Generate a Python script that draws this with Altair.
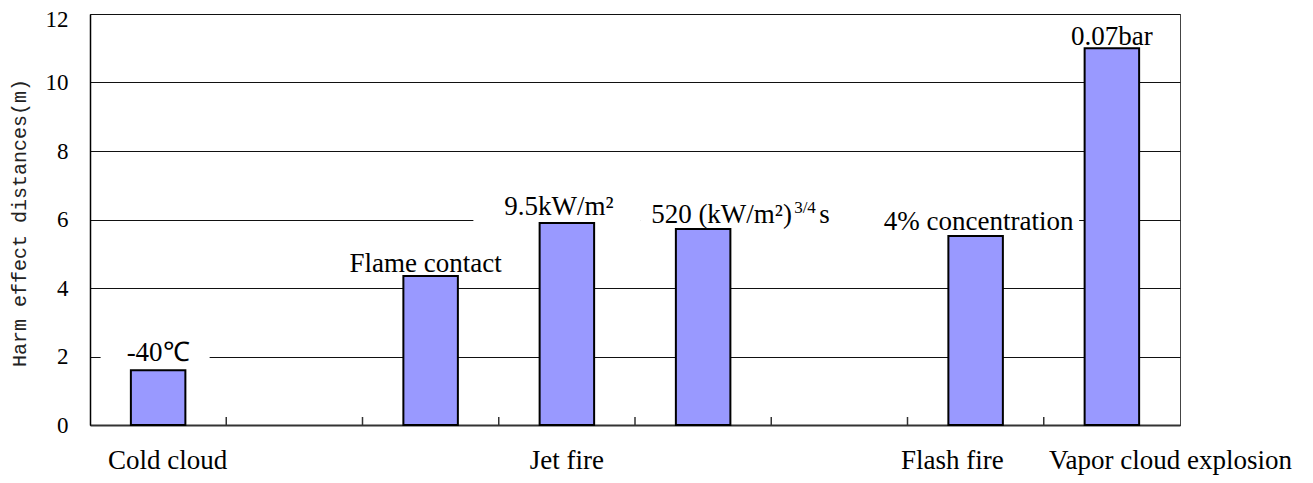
import altair as alt
import pandas as pd

# ---- data ----
slots = [1, 3, 4, 5, 7, 8]                      # slot index (1..8) of each bar
values = [1.6, 4.35, 5.9, 5.72, 5.52, 11.0]     # harm effect distance (m)
annotations = ["-40℃", "Flame contact", "9.5kW/m²", "520 (kW/m²)", "4% concentration", "0.07bar"]
group_names = ["Cold cloud", "Jet fire", "Flash fire", "Vapor cloud explosion"]
group_pos = [0.57, 3.5, 6.33, 7.93]             # label centres in slot units
boundaries = [1, 2, 3, 4, 5, 6, 7]              # category separators
y_ticks = [0, 2, 4, 6, 8, 10, 12]

W, H = 1090, 411
SERIF = "Liberation Serif"

df = pd.DataFrame({"slot": slots, "value": values, "label": annotations})
groups = pd.DataFrame({"name": group_names, "pos": group_pos})
bounds = pd.DataFrame({"b": boundaries})

xs = alt.Scale(domain=[0, 8], nice=False, zero=False)
ys = alt.Scale(domain=[0, 12], nice=False)

X_AXIS = alt.Axis(title=None, labels=False, ticks=False, grid=False,
                  domainColor="#333", domainWidth=2)
Y_AXIS = alt.Axis(
    values=y_ticks, title="Harm effect distances(m)", grid=True, gridColor="#111",
    gridWidth=1, gridOpacity=1, ticks=False, domainColor="black", domainWidth=1.5,
    labelFont=SERIF, labelFontSize=23, labelColor="black", labelPadding=22,
    labelOffset={"condition": {"test": "datum.value == 12", "value": 5}, "value": 0},
    titleFont="Liberation Mono", titleFontSize=20, titleFontWeight="normal",
    titleColor="#222", titleX=-71, titleY=H / 2 + 3, titleAngle=270,
    titleAlign="center", titleBaseline="middle")


def X(field):
    return alt.X(field, scale=xs, axis=X_AXIS)


def Y(field):
    return alt.Y(field, scale=ys, axis=Y_AXIS)


base = alt.Chart(df).transform_calculate(c="datum.slot - 0.5")


# white masks behind data labels (hide grid lines as the label boxes do)
def mask(label, size, thickness, xoff, yoff):
    return base.transform_filter(alt.datum.label == label).mark_tick(
        orient="horizontal", color="white", opacity=1, size=size,
        thickness=thickness, xOffset=xoff, yOffset=yoff).encode(
        x=X("c:Q"), y=Y("value:Q"))


masks = [
    mask("-40℃", 109, 28, -3, -16),
    mask("9.5kW/m²", 167, 24, -10, -12),
    mask("520 (kW/m²)", 240, 26, 57, -14),
    mask("4% concentration", 203, 24, 2, -14),
]

bars = base.transform_calculate(
    x0="datum.slot - 0.7", x1="datum.slot - 0.3"
).mark_bar(color="#9999FF", stroke="black", strokeWidth=2).encode(
    x=X("x0:Q"), x2="x1:Q", y=Y("value:Q"), y2=alt.datum(0),
)

sep_ticks = alt.Chart(bounds).mark_rule(color="#333", strokeWidth=1.5).encode(
    x=X("b:Q"), y=alt.value(H), y2=alt.value(H - 8),
)


def label_layer(label, dx, dy):
    return base.transform_filter(alt.datum.label == label).mark_text(
        font=SERIF, fontSize=27, baseline="alphabetic", dx=dx, dy=dy, color="black").encode(
        x=X("c:Q"), y=Y("value:Q"), text="label:N")


labels = [
    label_layer("-40℃", 0, -9),
    label_layer("Flame contact", -5, -4),
    label_layer("9.5kW/m²", -8, -8),
    label_layer("4% concentration", 3, -6),
    label_layer("0.07bar", 0, -3),
]

lbl520 = base.transform_filter(alt.datum.label == "520 (kW/m²)")
l520a = lbl520.mark_text(font=SERIF, fontSize=27, baseline="alphabetic", align="left",
                         dx=-52, dy=-6, color="black").encode(
    x=X("c:Q"), y=Y("value:Q"), text="label:N")
l520b = lbl520.mark_text(font=SERIF, fontSize=17, baseline="alphabetic", align="left",
                         dx=91, dy=-16, color="black", text="3/4").encode(
    x=X("c:Q"), y=Y("value:Q"))
l520c = lbl520.mark_text(font=SERIF, fontSize=27, baseline="alphabetic", align="left",
                         dx=116, dy=-6, color="black", text="s").encode(
    x=X("c:Q"), y=Y("value:Q"))

group_text = alt.Chart(groups).mark_text(font=SERIF, fontSize=27, baseline="alphabetic",
                                         color="black").encode(
    x=X("pos:Q"), y=alt.value(H + 44), text="name:N",
)

chart = alt.layer(
    *masks, bars, sep_ticks, *labels, l520a, l520b, l520c, group_text
).properties(
    width=W, height=H,
    padding={"left": 82, "top": 6, "right": 125, "bottom": 50},
    autosize=alt.AutoSizeParams(type="none"),
).configure_view(stroke="#444", strokeWidth=1)

chart.save("out.html", embed_options={"renderer": "svg", "actions": False})
